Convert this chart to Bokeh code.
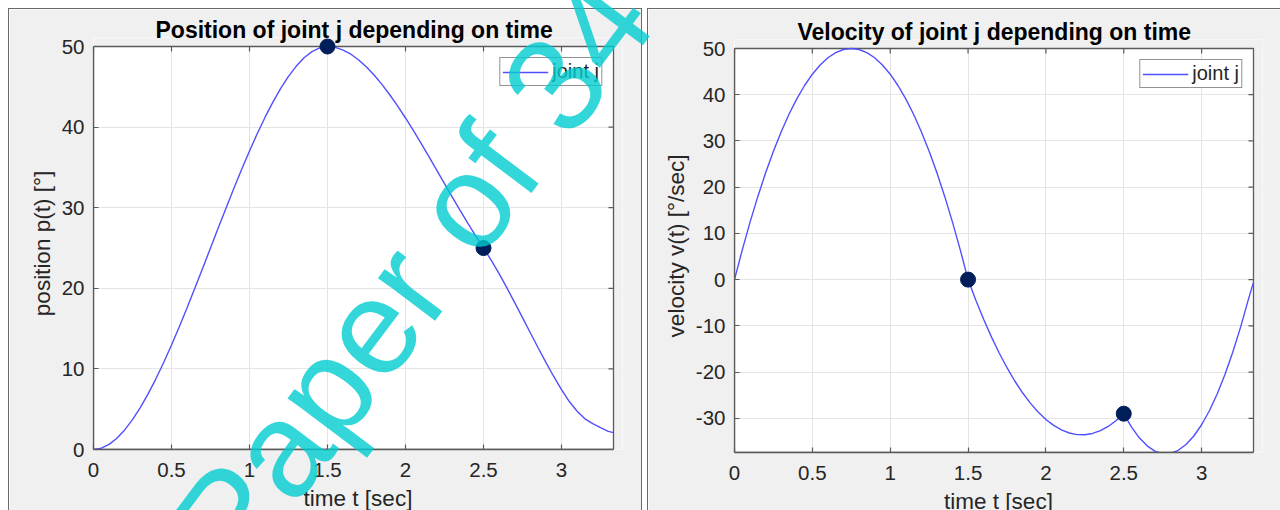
from bokeh.plotting import figure
from bokeh.models import (Range1d, LinearAxis, Legend, LegendItem, Spacer, Div,
                          FixedTicker, Grid, BoxAnnotation)
from bokeh.layouts import row, column
from bokeh.embed import file_html
from bokeh.resources import INLINE

# ---------------- data ----------------
t = [0.00, 0.05, 0.10, 0.15, 0.20, 0.25, 0.30, 0.35, 0.40, 0.45,
     0.50, 0.55, 0.60, 0.65, 0.70, 0.75, 0.80, 0.85, 0.90, 0.95,
     1.00, 1.05, 1.10, 1.15, 1.20, 1.25, 1.30, 1.35, 1.40, 1.45,
     1.50, 1.55, 1.60, 1.65, 1.70, 1.75, 1.80, 1.85, 1.90, 1.95,
     2.00, 2.05, 2.10, 2.15, 2.20, 2.25, 2.30, 2.35, 2.40, 2.45,
     2.50, 2.55, 2.60, 2.65, 2.70, 2.75, 2.80, 2.85, 2.90, 2.95,
     3.00, 3.05, 3.10, 3.15, 3.20, 3.25, 3.30, 3.333]

position = [0.00, 0.16, 0.64, 1.40, 2.43, 3.70, 5.20, 6.90, 8.77, 10.80,
            12.96, 15.24, 17.60, 20.03, 22.50, 25.00, 27.50, 29.97, 32.40, 34.76,
            37.04, 39.20, 41.23, 43.10, 44.80, 46.30, 47.57, 48.60, 49.36, 49.84,
            50.00, 49.89, 49.56, 49.04, 48.33, 47.45, 46.43, 45.27, 43.98, 42.60,
            41.13, 39.58, 37.98, 36.33, 34.66, 32.98, 31.31, 29.66, 28.05, 26.49,
            25.00, 23.47, 21.82, 20.06, 18.23, 16.36, 14.48, 12.62, 10.80, 9.06,
            7.43, 5.95, 4.75, 3.80, 3.20, 2.70, 2.25, 2.10]

velocity = [0.00, 6.44, 12.44, 18.00, 23.11, 27.78, 32.00, 35.78, 39.11, 42.00,
            44.44, 46.44, 48.00, 49.11, 49.78, 50.00, 49.78, 49.11, 48.00, 46.44,
            44.44, 42.00, 39.11, 35.78, 32.00, 27.78, 23.11, 18.00, 12.44, 6.44,
            0.00, -4.44, -8.57, -12.38, -15.88, -19.06, -21.93, -24.48, -26.72, -28.64,
            -30.25, -31.54, -32.52, -33.18, -33.53, -33.56, -33.28, -32.68, -31.77, -30.54,
            -29.00, -31.91, -34.23, -35.96, -37.09, -37.63, -37.57, -36.92, -35.67, -33.83,
            -31.40, -28.37, -24.75, -20.54, -15.73, -10.33, -4.33, -0.60]

via_t = [1.5, 2.5]
via_position = [50.0, 25.0]
via_velocity = [0.0, -29.0]

x_ticks = [0, 0.5, 1, 1.5, 2, 2.5, 3]
x_tick_labels = ["0", "0.5", "1", "1.5", "2", "2.5", "3"]
pos_ticks = [0, 10, 20, 30, 40, 50]
pos_tick_labels = ["0", "10", "20", "30", "40", "50"]
vel_ticks = [-30, -20, -10, 0, 10, 20, 30, 40, 50]
vel_tick_labels = ["-30", "-20", "-10", "0", "10", "20", "30", "40", "50"]

x_limits = (0, 3.3333)
pos_limits = (0, 50)
vel_limits = (-37.4, 50)

watermark_text = "Paper of 34"

# ---------------- style ----------------
FONT = "Liberation Sans"
AXIS_COLOR = "#5a5a5a"
TICK_TEXT = "#262626"
GRID_COLOR = "#e4e4e4"
PANEL_BG = "#f0f0f0"
LINE_COLOR = "#5050ff"
DOT_COLOR = "#001e5a"
BORDER = "#6a6a6a"
PAD = 9        # extra frame pixels (top/right) so that markers on the box edge are not clipped
FIG_W, FIG_H = 632, 520


def style_axis(ax):
    ax.axis_line_color = AXIS_COLOR
    ax.axis_line_width = 1.3
    ax.major_tick_line_color = AXIS_COLOR
    ax.major_tick_line_width = 1.2
    ax.major_tick_in = 5
    ax.major_tick_out = 0
    ax.minor_tick_in = 0
    ax.minor_tick_out = 0
    ax.major_label_text_font = FONT
    ax.major_label_text_font_size = "20.5px"
    ax.major_label_text_color = TICK_TEXT
    ax.axis_label_text_font = FONT
    ax.axis_label_text_font_size = "22.5px"
    ax.axis_label_text_font_style = "normal"
    ax.axis_label_text_color = TICK_TEXT


def panel(title_text, title_offset, ylabel, y, via_y, ylim, yticks, ytick_labels,
          mb_left, frame_w, mb_top, frame_h):
    x_pad = (x_limits[1] - x_limits[0]) * PAD / frame_w
    y_pad = (ylim[1] - ylim[0]) * PAD / frame_h
    p = figure(width=FIG_W, height=FIG_H,
               x_range=Range1d(x_limits[0], x_limits[1] + x_pad),
               y_range=Range1d(ylim[0], ylim[1] + y_pad),
               output_backend="svg", toolbar_location=None,
               x_axis_location=None, y_axis_location=None,
               min_border_left=mb_left, min_border_right=FIG_W - mb_left - frame_w - PAD,
               min_border_top=mb_top - PAD, min_border_bottom=FIG_H - mb_top - frame_h)
    p.border_fill_color = PANEL_BG
    p.background_fill_color = "white"
    p.outline_line_color = None

    xt = FixedTicker(ticks=x_ticks)
    yt = FixedTicker(ticks=yticks)

    bottom = LinearAxis(ticker=xt, axis_label="time t [sec]", bounds=x_limits,
                        major_label_overrides=dict(zip(x_ticks, x_tick_labels)))
    style_axis(bottom)
    bottom.major_label_standoff = 13
    bottom.axis_label_standoff = 6
    p.add_layout(bottom, "below")

    left = LinearAxis(ticker=yt, axis_label=ylabel, bounds=ylim,
                      major_label_overrides=dict(zip(yticks, ytick_labels)))
    style_axis(left)
    left.major_label_standoff = 9
    left.axis_label_standoff = 4
    p.add_layout(left, "left")

    p.add_layout(Grid(dimension=0, ticker=xt, grid_line_color=GRID_COLOR, grid_line_width=1))
    p.add_layout(Grid(dimension=1, ticker=yt, grid_line_color=GRID_COLOR, grid_line_width=1))
    # cover the padding strips (above the top limit / right of the right limit)
    p.add_layout(BoxAnnotation(bottom=ylim[1], fill_color=PANEL_BG, fill_alpha=1,
                               line_color=None, level="underlay"))
    p.add_layout(BoxAnnotation(left=x_limits[1], fill_color=PANEL_BG, fill_alpha=1,
                               line_color=None, level="underlay"))

    p.title.text = title_text
    p.title.align = "left"
    p.title.offset = title_offset
    p.title.text_font = FONT
    p.title.text_font_size = "23px"
    p.title.text_font_style = "bold"
    p.title.text_color = "#000000"
    p.title.standoff = -10

    # axes box and inward ticks on top / right
    p.quad(left=[x_limits[0]], right=[x_limits[1]], bottom=[ylim[0]], top=[ylim[1]],
           fill_color=None, line_color=AXIS_COLOR, line_width=1.3)
    p.ray(x=x_ticks, y=[ylim[1]] * len(x_ticks), length=5, length_units="screen",
          angle=-90, angle_units="deg", line_color=AXIS_COLOR, line_width=1.2)
    p.ray(x=[x_limits[1]] * len(yticks), y=yticks, length=5, length_units="screen",
          angle=180, angle_units="deg", line_color=AXIS_COLOR, line_width=1.2)

    r = p.line(t, y, line_color=LINE_COLOR, line_width=1.4)
    p.scatter(via_t, via_y, size=15, fill_color=DOT_COLOR, line_color=DOT_COLOR)

    legend = Legend(items=[LegendItem(label="joint j", renderers=[r])],
                    location="top_right", margin=11 + PAD, padding=2, spacing=0,
                    label_standoff=4, glyph_width=46, glyph_height=18, label_height=18,
                    label_text_font=FONT, label_text_font_size="20px",
                    label_text_color=TICK_TEXT,
                    border_line_color="#262626", border_line_width=1,
                    background_fill_color="white", background_fill_alpha=1)
    p.add_layout(legend)
    return p


p_pos = panel("Position of joint j depending on time", 62, "position p(t) [°]", position,
              via_position, pos_limits, pos_ticks, pos_tick_labels,
              mb_left=84, frame_w=520, mb_top=37, frame_h=403)
p_vel = panel("Velocity of joint j depending on time", 63, "velocity v(t) [°/sec]", velocity,
              via_velocity, vel_limits, vel_ticks, vel_tick_labels,
              mb_left=86, frame_w=519, mb_top=39, frame_h=404)

# watermark: semi-transparent cyan text laid over the whole page
WM_SIZE = 135
WM_ANGLE = 53
WM_X, WM_Y = 235, 575          # baseline start, page pixels
baseline_off = 0.8465 * WM_SIZE
wm_html = (
    f'<span style="position:absolute; left:{WM_X}px; top:{WM_Y - baseline_off:.1f}px; '
    f"font-family:'{FONT}'; font-size:{WM_SIZE}px; line-height:{WM_SIZE}px; "
    f'color:rgba(0,204,207,0.8); white-space:nowrap; '
    f'transform-origin:0px {baseline_off:.1f}px; transform:rotate(-{WM_ANGLE}deg);">'
    f'{watermark_text}</span>'
)
watermark = Div(text=wm_html, width=1280, height=510,
                styles={"position": "absolute", "left": "0px", "top": "0px",
                        "pointer-events": "none", "z-index": "10", "overflow": "visible"})


def bar(w, h, color=None):
    if color is None:
        return Spacer(width=w, height=h)
    return Spacer(width=w, height=h, styles={"background-color": color})


layout = column(
    bar(1280, 8),
    row(
        bar(8, FIG_H + 1),
        bar(1, FIG_H + 1, BORDER),
        column(bar(FIG_W, 1, BORDER), p_pos),
        bar(1, FIG_H + 1, BORDER),
        bar(5, FIG_H + 1),
        bar(1, FIG_H + 1, BORDER),
        column(bar(FIG_W, 1, BORDER), p_vel),
    ),
    watermark,
)

open("out.html", "w").write(file_html(layout, INLINE))
